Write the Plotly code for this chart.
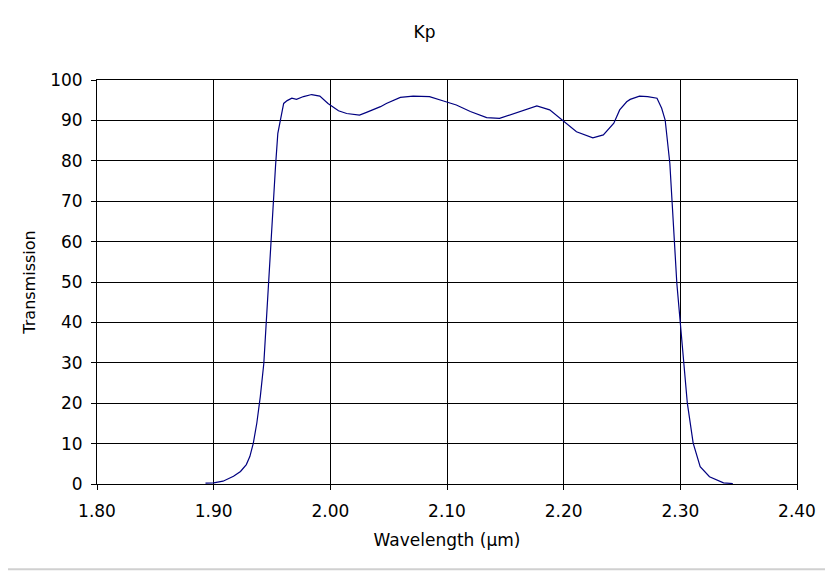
import plotly.graph_objects as go

# Kp filter transmission curve
wavelength = [
    1.893, 1.900, 1.908, 1.917, 1.923, 1.928, 1.931, 1.934, 1.937, 1.940,
    1.943, 1.945, 1.947, 1.949, 1.951, 1.953, 1.955, 1.958, 1.960, 1.963,
    1.967, 1.971, 1.977, 1.984, 1.991, 1.998, 2.007, 2.014, 2.025, 2.031,
    2.037, 2.043, 2.048, 2.060, 2.071, 2.085, 2.097, 2.108, 2.120, 2.134,
    2.145, 2.157, 2.168, 2.177, 2.188, 2.199, 2.211, 2.225, 2.234, 2.243,
    2.248, 2.254, 2.257, 2.265, 2.272, 2.280, 2.284, 2.287, 2.289, 2.291,
    2.293, 2.295, 2.297, 2.300, 2.303, 2.306, 2.311, 2.317, 2.325, 2.337,
    2.345,
]
transmission = [
    0.2, 0.3, 0.7, 1.9, 3.1, 4.8, 6.8, 10.1, 15.1, 21.7,
    29.9, 39.8, 49.7, 61.2, 69.5, 78.6, 86.8, 90.9, 94.2, 94.9,
    95.5, 95.2, 95.9, 96.4, 96.0, 94.2, 92.4, 91.7, 91.3, 92.0,
    92.7, 93.4, 94.2, 95.7, 96.0, 95.9, 94.8, 93.8, 92.2, 90.7,
    90.5, 91.7, 92.7, 93.6, 92.6, 90.1, 87.2, 85.7, 86.4, 89.3,
    92.6, 94.6, 95.2, 96.0, 95.9, 95.5, 93.0, 90.1, 85.1, 79.4,
    69.5, 59.6, 49.7, 39.8, 29.9, 20.0, 10.1, 4.3, 1.8, 0.3,
    0.1,
]

x_ticks = [1.8, 1.9, 2.0, 2.1, 2.2, 2.3, 2.4]
x_labels = ["1.80", "1.90", "2.00", "2.10", "2.20", "2.30", "2.40"]

font_family = "DejaVu Sans"

fig = go.Figure(go.Scatter(
    x=wavelength,
    y=transmission,
    mode="lines",
    line=dict(color="#000080", width=1.2),
    hoverinfo="x+y",
))

# the page body adds 8px, so margins are shifted to keep the plot box in place
fig.update_layout(
    width=833,
    height=571,
    margin=dict(l=89, r=44, t=72, b=95),
    paper_bgcolor="white",
    plot_bgcolor="white",
    showlegend=False,
    font=dict(family=font_family, size=17, color="black"),
    title=dict(text="Kp", x=0.5, xanchor="center", y=0.958, yanchor="middle",
               font=dict(family=font_family, size=17, color="black")),
)

fig.update_xaxes(
    range=[1.8, 2.4],
    tickvals=x_ticks,
    ticktext=x_labels,
    ticks="outside",
    ticklen=5,
    tickcolor="black",
    ticklabelstandoff=7,
    showgrid=True,
    gridcolor="black",
    gridwidth=1,
    showline=True,
    linecolor="black",
    linewidth=1,
    mirror=True,
    zeroline=False,
    title=dict(text="Wavelength (µm)", standoff=13,
               font=dict(family=font_family, size=17)),
)

fig.update_yaxes(
    range=[0, 100],
    dtick=10,
    ticks="outside",
    ticklen=5,
    tickcolor="black",
    ticklabelstandoff=5,
    showgrid=True,
    gridcolor="black",
    gridwidth=1,
    showline=True,
    linecolor="black",
    linewidth=1,
    mirror=True,
    zeroline=False,
    title=dict(text="Transmission", standoff=10,
               font=dict(family=font_family, size=16)),
)

# faint rule at the bottom of the picture
fig.add_shape(
    type="line", xref="paper", yref="paper",
    x0=-0.14, x1=1.06, y0=-0.211, y1=-0.211,
    line=dict(color="#d0d0d0", width=2),
)

fig.write_html("out.html")
